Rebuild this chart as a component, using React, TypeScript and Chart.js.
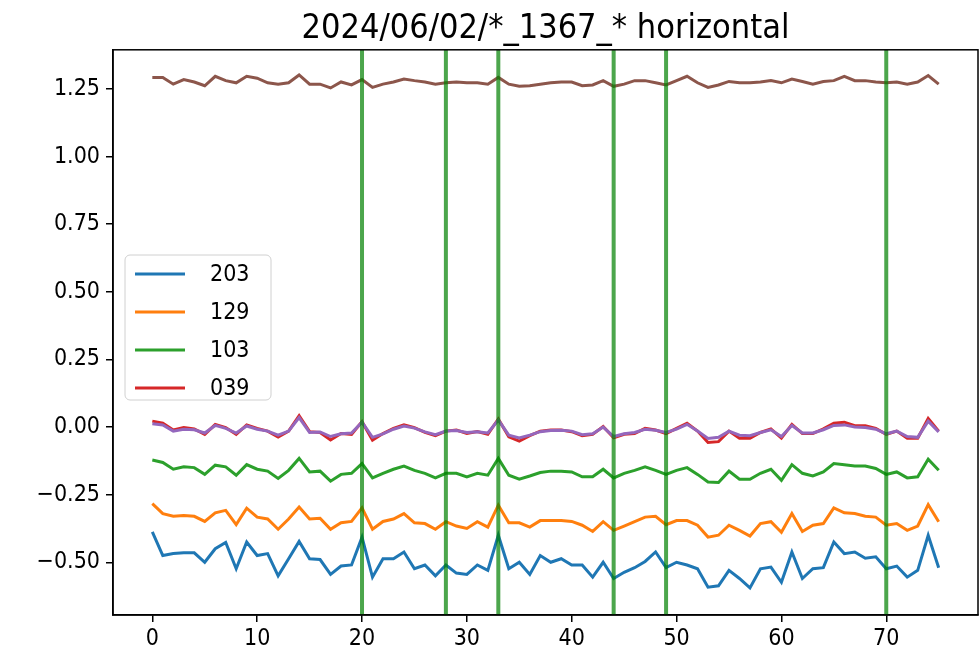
import React, { useEffect, useRef } from "react";
import { Chart, registerables } from "chart.js";

Chart.register(...registerables);

const titleText = "2024/06/02/*_1367_* horizontal";

const s203 = [-0.388,-0.475,-0.468,-0.465,-0.465,-0.50,-0.45,-0.427,-0.524,-0.425,-0.475,-0.468,-0.55,-0.487,-0.423,-0.487,-0.49,-0.545,-0.514,-0.51,
  -0.407,-0.555,-0.487,-0.487,-0.462,-0.524,-0.51,-0.55,-0.51,-0.54,-0.545,-0.51,-0.53,-0.40,-0.524,-0.50,-0.545,-0.475,-0.50,
  -0.487,-0.51,-0.51,-0.555,-0.50,-0.56,-0.537,-0.52,-0.497,-0.462,-0.52,-0.50,-0.51,-0.524,-0.592,-0.587,-0.53,-0.56,-0.595,-0.524,
  -0.518,-0.574,-0.462,-0.56,-0.524,-0.52,-0.425,-0.468,-0.462,-0.485,-0.48,-0.524,-0.514,-0.555,-0.53,-0.40,-0.52];

const s129 = [-0.283,-0.32,-0.33,-0.327,-0.33,-0.349,-0.317,-0.308,-0.361,-0.30,-0.333,-0.34,-0.378,-0.34,-0.296,-0.34,-0.337,-0.378,-0.354,-0.349,
  -0.299,-0.378,-0.349,-0.34,-0.32,-0.354,-0.357,-0.378,-0.35,-0.366,-0.375,-0.35,-0.37,-0.289,-0.354,-0.354,-0.37,-0.346,-0.346,
  -0.346,-0.349,-0.363,-0.386,-0.35,-0.382,-0.366,-0.35,-0.333,-0.33,-0.361,-0.346,-0.346,-0.363,-0.407,-0.40,-0.363,-0.382,-0.403,-0.357,
  -0.35,-0.389,-0.32,-0.386,-0.363,-0.357,-0.299,-0.317,-0.32,-0.33,-0.333,-0.363,-0.357,-0.382,-0.366,-0.287,-0.35];

const s103 = [-0.122,-0.131,-0.156,-0.147,-0.15,-0.175,-0.141,-0.147,-0.178,-0.139,-0.156,-0.163,-0.19,-0.16,-0.116,-0.166,-0.163,-0.20,-0.175,-0.171,
  -0.135,-0.188,-0.171,-0.156,-0.144,-0.16,-0.171,-0.188,-0.171,-0.171,-0.184,-0.171,-0.178,-0.116,-0.178,-0.193,-0.181,-0.168,-0.163,
  -0.163,-0.166,-0.184,-0.184,-0.156,-0.188,-0.171,-0.16,-0.147,-0.16,-0.175,-0.16,-0.15,-0.175,-0.203,-0.205,-0.163,-0.193,-0.193,-0.171,
  -0.156,-0.197,-0.139,-0.171,-0.181,-0.166,-0.135,-0.139,-0.144,-0.144,-0.153,-0.175,-0.166,-0.188,-0.184,-0.119,-0.16];

const s039 = [0.022,0.014,-0.011,-0.002,-0.007,-0.027,0.010,-0.002,-0.027,0.008,-0.005,-0.015,-0.037,-0.015,0.042,-0.017,-0.020,-0.048,-0.024,-0.027,
  0.02,-0.048,-0.024,-0.005,0.008,-0.002,-0.020,-0.032,-0.015,-0.011,-0.024,-0.017,-0.027,0.030,-0.036,-0.052,-0.032,-0.015,-0.011,
  -0.011,-0.017,-0.032,-0.027,0.002,-0.040,-0.027,-0.024,-0.005,-0.011,-0.024,-0.005,0.014,-0.015,-0.057,-0.054,-0.015,-0.041,-0.041,-0.020,
  -0.007,-0.041,0.010,-0.024,-0.024,-0.007,0.014,0.018,0.005,0.005,-0.005,-0.027,-0.015,-0.041,-0.041,0.032,-0.015];

const sPurple = [0.012,0.008,-0.015,-0.008,-0.01,-0.022,0.006,-0.005,-0.022,0.004,-0.008,-0.015,-0.03,-0.015,0.035,-0.02,-0.018,-0.035,-0.025,-0.022,
  0.018,-0.038,-0.025,-0.008,0.004,-0.004,-0.018,-0.028,-0.015,-0.013,-0.02,-0.017,-0.022,0.026,-0.03,-0.04,-0.03,-0.017,-0.013,
  -0.012,-0.015,-0.028,-0.025,0.0,-0.035,-0.025,-0.02,-0.008,-0.012,-0.02,-0.008,0.01,-0.015,-0.042,-0.038,-0.015,-0.03,-0.032,-0.02,
  -0.01,-0.035,0.006,-0.022,-0.022,-0.01,0.006,0.008,0.0,-0.002,-0.008,-0.025,-0.015,-0.035,-0.038,0.022,-0.018];

const sBrown = [1.293,1.293,1.268,1.285,1.276,1.262,1.297,1.281,1.273,1.297,1.290,1.273,1.268,1.273,1.302,1.268,1.268,1.254,1.276,1.265,
  1.285,1.256,1.268,1.276,1.287,1.281,1.276,1.268,1.273,1.276,1.273,1.273,1.268,1.293,1.268,1.260,1.262,1.268,
  1.273,1.276,1.276,1.262,1.265,1.281,1.260,1.268,1.281,1.281,1.273,1.265,1.281,1.297,1.273,1.256,1.265,1.278,1.273,1.273,1.276,
  1.281,1.273,1.287,1.278,1.268,1.278,1.281,1.297,1.281,1.281,1.276,1.273,1.276,1.268,1.276,1.300,1.268];

const steps = s203.map((_, i) => i);
const markers = [20, 28, 33, 44, 49, 70];
const xTicks = [0, 10, 20, 30, 40, 50, 60, 70];
const yTicks = [-0.5, -0.25, 0, 0.25, 0.5, 0.75, 1.0, 1.25];
const legendLabels = ["203", "129", "103", "039"];

const X_MIN = -3.75, X_MAX = 78.75, Y_MIN = -0.695, Y_MAX = 1.395;
const FONT = "'DejaVu Sans Condensed', 'DejaVu Sans', sans-serif";
const COLORS = ["#1f77b4", "#ff7f0e", "#2ca02c", "#d62728", "#9467bd", "#8c564b"];

function toPts(arr: number[]) {
  return arr.map((v, i) => ({ x: steps[i], y: v }));
}

const framePlugin = {
  id: "frameLegend",
  afterDraw(chart: any) {
    const { ctx, chartArea } = chart;
    ctx.save();
    ctx.strokeStyle = "#000";
    ctx.lineWidth = 1.5;
    ctx.strokeRect(chartArea.left, chartArea.top, chartArea.right - chartArea.left, chartArea.bottom - chartArea.top);
    // legend
    const bx = chartArea.left + 12, by = 255, bw = 146, bh = 145, r = 5;
    ctx.globalAlpha = 0.8;
    ctx.fillStyle = "#fff";
    ctx.beginPath();
    ctx.moveTo(bx + r, by);
    ctx.arcTo(bx + bw, by, bx + bw, by + bh, r);
    ctx.arcTo(bx + bw, by + bh, bx, by + bh, r);
    ctx.arcTo(bx, by + bh, bx, by, r);
    ctx.arcTo(bx, by, bx + bw, by, r);
    ctx.closePath();
    ctx.fill();
    ctx.globalAlpha = 1;
    ctx.strokeStyle = "#d0d0d0";
    ctx.lineWidth = 1;
    ctx.stroke();
    ctx.font = `23px ${FONT}`;
    ctx.textBaseline = "middle";
    legendLabels.forEach((lab, i) => {
      const y = by + 19 + i * 38;
      ctx.strokeStyle = COLORS[i];
      ctx.lineWidth = 3;
      ctx.beginPath();
      ctx.moveTo(bx + 10, y);
      ctx.lineTo(bx + 60, y);
      ctx.stroke();
      ctx.fillStyle = "#000";
      ctx.fillText(lab, bx + 85, y + 1);
    });
    ctx.restore();
  },
};

export default function App() {
  const ref = useRef<HTMLCanvasElement | null>(null);
  useEffect(() => {
    if (!ref.current) return;
    const seriesList = [s203, s129, s103, s039, sPurple, sBrown];
    const seriesNames = ["203", "129", "103", "039", "", ""];
    const datasets: any[] = seriesList.map((s, i) => ({
      label: seriesNames[i],
      data: toPts(s),
      borderColor: COLORS[i],
      borderWidth: 3,
      pointRadius: 0,
      fill: false,
      tension: 0,
      order: 10 - i,
    }));
    markers.forEach((m) => {
      datasets.push({
        label: "",
        data: [{ x: m, y: Y_MIN }, { x: m, y: Y_MAX }],
        borderColor: "rgba(0,128,0,0.7)",
        borderWidth: 4,
        pointRadius: 0,
        fill: false,
        order: 0,
      });
    });
    const chart = new Chart(ref.current, {
      type: "line",
      data: { datasets },
      plugins: [framePlugin],
      options: {
        animation: false,
        responsive: true,
        maintainAspectRatio: false,
        layout: { padding: { left: 0, right: 1, top: 0, bottom: 0 } },
        plugins: {
          legend: { display: false },
          tooltip: { enabled: false },
          title: {
            display: true,
            fullSize: false,
            text: titleText,
            color: "#000",
            font: { family: FONT, size: 34, weight: "normal", lineHeight: 1.2 },
            padding: { top: 9, bottom: 0 },
          },
        },
        scales: {
          x: {
            type: "linear",
            min: X_MIN,
            max: X_MAX,
            afterBuildTicks: (s: any) => { s.ticks = xTicks.map((v) => ({ value: v })); },
            afterFit: (s: any) => { s.height = 43; },
            grid: { drawOnChartArea: false, drawTicks: true, tickLength: 7, color: "#000", lineWidth: 1.5 },
            border: { display: true, color: "#000", width: 1.5 },
            ticks: { color: "#000", font: { family: FONT, size: 23 }, padding: 3, maxRotation: 0 },
          },
          y: {
            type: "linear",
            min: Y_MIN,
            max: Y_MAX,
            afterBuildTicks: (s: any) => { s.ticks = yTicks.map((v) => ({ value: v })); },
            afterFit: (s: any) => { s.width = 113; },
            grid: { drawOnChartArea: false, drawTicks: true, tickLength: 7, color: "#000", lineWidth: 1.5 },
            border: { display: true, color: "#000", width: 1.5 },
            ticks: {
              color: "#000",
              font: { family: FONT, size: 23 },
              padding: 6,
              callback: (v: any) => {
                const n = Number(v);
                return (n < 0 ? "\u2212" : "") + Math.abs(n).toFixed(2);
              },
            },
          },
        },
      },
    });
    return () => chart.destroy();
  }, []);
  return (
    <div style={{ position: "absolute", left: 0, top: 0, width: 979, height: 658, background: "#fff" }}>
      <canvas ref={ref} />
    </div>
  );
}
